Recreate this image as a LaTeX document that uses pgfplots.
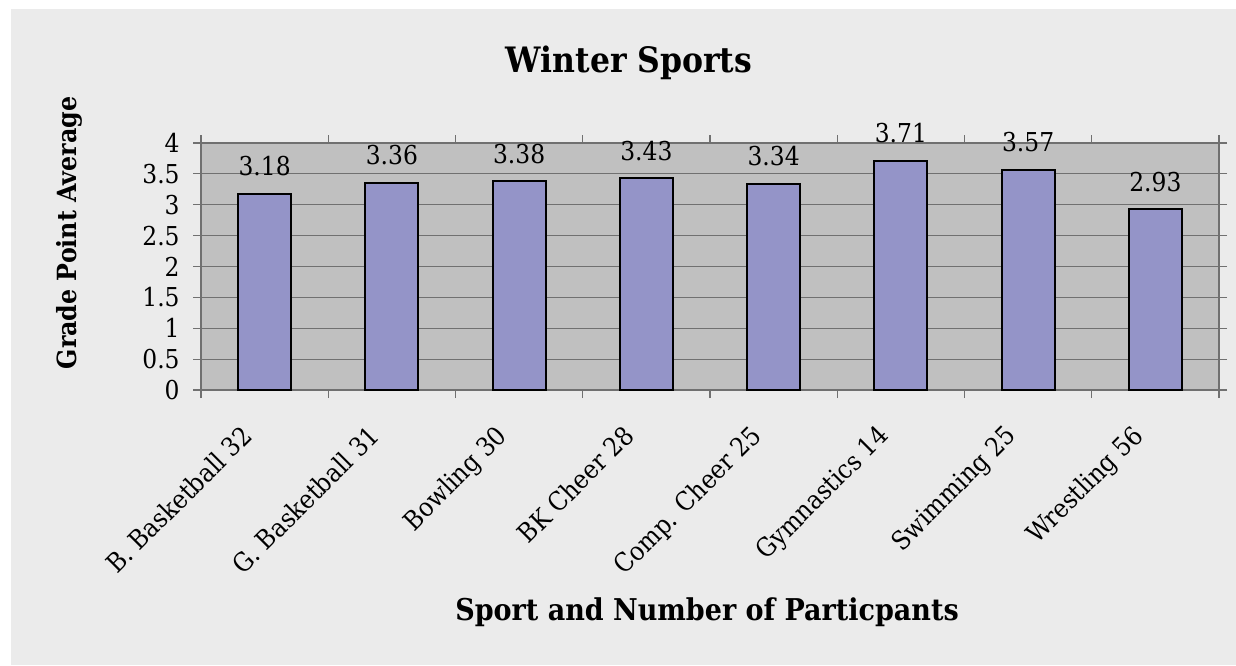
\documentclass[border=0pt]{standalone}
\usepackage{pgfplots}
\pgfplotsset{compat=1.18}
\usepackage{fontspec}
\setmainfont{DejaVu Serif Condensed}
\definecolor{bgouter}{RGB}{235,235,235}
\definecolor{plotbg}{RGB}{192,192,192}
\definecolor{barfill}{RGB}{148,148,200}
\definecolor{gridc}{RGB}{112,112,112}
\begin{document}
\begin{tikzpicture}[x=1pt,y=1pt]
\path[fill=white] (0,0) rectangle (618,332.5);
\path[fill=bgouter] (5.5,0) rectangle (618,328);
\node[font=\fontsize{17.5}{20}\selectfont\bfseries] at (314.5,301) {Winter Sports};
\node[font=\fontsize{15}{18}\selectfont\bfseries] at (353.5,26.5) {Sport and Number of Particpants};
\node[font=\fontsize{13.2}{15}\selectfont\bfseries,rotate=90] at (34.5,216) {Grade Point Average};
\begin{axis}[
  at={(100.5pt,137.5pt)}, anchor=south west,
  scale only axis, width=509pt, height=123.5pt,
  axis background/.style={fill=plotbg},
  xmin=-0.5, xmax=7.5, ymin=0, ymax=4,
  ytick={0,0.5,...,4},
  yticklabels={0,0.5,1,1.5,2,2.5,3,3.5,4},
  xtick={0,...,7},
  xticklabels={B. Basketball 32,G. Basketball 31,Bowling 30,BK Cheer 28,Comp. Cheer 25,Gymnastics 14,Swimming 25,Wrestling 56},
  minor xtick={-0.5,0.5,...,7.5},
  tick align=outside,
  major tick length=4pt,
  minor tick length=4pt,
  x tick style={draw=none},
  minor x tick style={draw=gridc, line width=0.6pt},
  y tick style={draw=gridc, line width=0.6pt},
  ymajorgrids, major grid style={draw=gridc, line width=0.6pt},
  axis line style={draw=gridc, line width=0.8pt},
  tick label style={font=\fontsize{13}{15}\selectfont},
  xticklabel style={rotate=45, anchor=north east, inner sep=1pt, xshift=-16.6pt, yshift=0.8pt},
  yticklabel style={inner sep=1pt, xshift=-5.5pt},
  /pgf/number format/assume math mode=true,
  clip=false,
  ybar, bar width=26.5pt,
  nodes near coords,
  nodes near coords style={font=\fontsize{13}{15}\selectfont, yshift=5pt, /pgf/number format/fixed, /pgf/number format/precision=2, /pgf/number format/fixed zerofill},
]
\addplot[fill=barfill, draw=black, line width=1pt] coordinates {
 (0,3.18) (1,3.36) (2,3.38) (3,3.43) (4,3.34) (5,3.71) (6,3.57) (7,2.93)
};
\end{axis}
\end{tikzpicture}
\end{document}
